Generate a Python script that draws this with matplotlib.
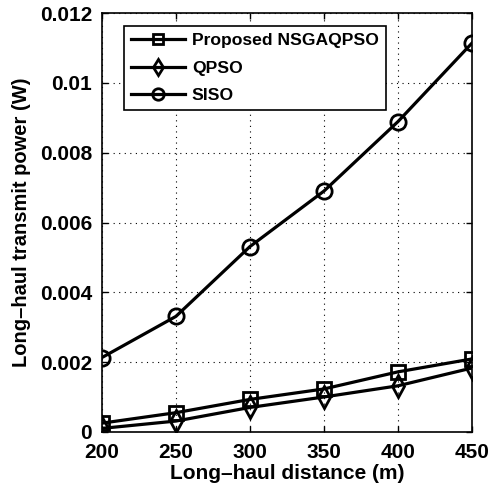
import matplotlib
matplotlib.use("Agg")
import matplotlib.pyplot as plt

plt.rcParams['font.family'] = ['Liberation Sans', 'DejaVu Sans']
plt.rcParams['font.weight'] = 'bold'

distance = [200, 250, 300, 350, 400, 450]
proposed = [0.00025, 0.00055, 0.00093, 0.00123, 0.00172, 0.00209]
qpso = [0.0001, 0.00031, 0.0007, 0.001, 0.00132, 0.00183]
siso = [0.00213, 0.00331, 0.00531, 0.0069, 0.00889, 0.01114]

fig = plt.figure(figsize=(4.9, 4.88), dpi=100)
ax = fig.add_axes([0.208, 0.115, 0.755, 0.858])

ax.plot(distance, proposed, 'k-s', lw=2.3, ms=10, mfc='none', mew=2, label='Proposed NSGAQPSO')
ax.plot(distance, qpso, 'k-d', lw=2.3, ms=11, mfc='none', mew=2, label='QPSO')
ax.plot(distance, siso, 'k-o', lw=2.3, ms=11, mfc='none', mew=2, label='SISO')

ax.set_xlim(200, 450)
ax.set_ylim(0, 0.012)
ax.set_xticks(distance)
ax.set_yticks([0, 0.002, 0.004, 0.006, 0.008, 0.01, 0.012])
ax.set_yticklabels(['0', '0.002', '0.004', '0.006', '0.008', '0.01', '0.012'])
ax.tick_params(direction='in', labelsize=15, width=1, length=4, top=True, right=True)
ax.tick_params(axis='x', pad=8)
ax.tick_params(axis='y', pad=7)
ax.grid(True, color='k', linestyle=(0, (1, 4)), linewidth=0.8)
for s in ax.spines.values():
    s.set_linewidth(1.2)

ax.set_xlabel('Long\u2013haul distance (m)', fontsize=15, fontweight='bold', labelpad=1.5)
ax.set_ylabel('Long\u2013haul transmit power (W)', fontsize=14.5, fontweight='bold', labelpad=6)

leg = ax.legend(loc='upper left', bbox_to_anchor=(0.035, 0.99), fancybox=False, framealpha=1,
                edgecolor='k', handlelength=3.1, handletextpad=0.4, borderpad=0.4,
                labelspacing=0.7, markerscale=0.75,
                prop={'weight': 'bold', 'size': 12.6})
leg.get_frame().set_linewidth(1.2)

fig.savefig('out.png', dpi=100)
